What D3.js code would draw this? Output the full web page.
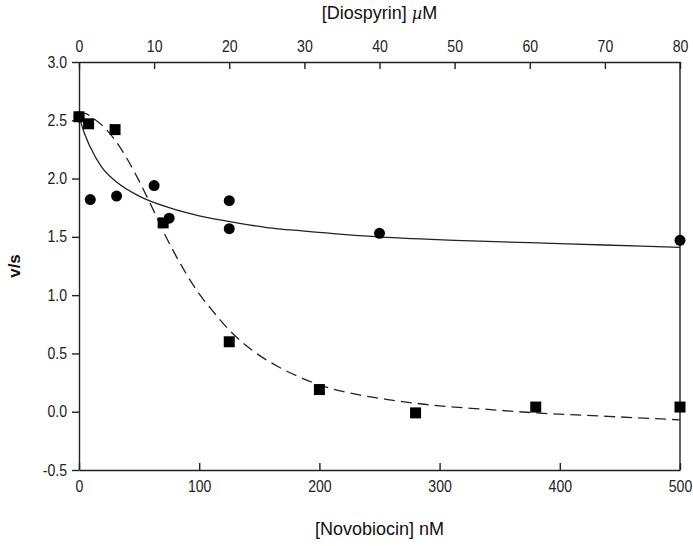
<!DOCTYPE html>
<html>
<head>
<meta charset="utf-8">
<script src="https://cdn.jsdelivr.net/npm/d3@7"></script>
<style>
  body { margin: 0; background: #fff; }
  svg { display: block; }
  .axis text { font-family: "Liberation Sans", Arial, sans-serif; font-size: 16px; fill: #222; }
  .axis path, .axis line { stroke: #222; stroke-width: 1.4px; }
  .axis-title { font-family: "Liberation Sans", Arial, sans-serif; font-size: 18px; fill: #111; }
</style>
</head>
<body>
<div id="chart"></div>
<script>
// Novobiocin (bottom axis, nM) – squares, dashed fit
const novoConc = [0, 8, 30, 70, 125, 200, 280, 380, 500];
const novoRate = [2.53, 2.47, 2.42, 1.62, 0.60, 0.19, -0.01, 0.04, 0.04];

// Diospyrin (top axis, µM) – circles, solid fit
const diosConc = [0, 1.5, 5, 10, 12, 20, 20, 40, 80];
const diosRate = [2.53, 1.82, 1.85, 1.94, 1.66, 1.81, 1.57, 1.53, 1.47];

// fitted curves
const novoFitX = [0, 5, 10, 20, 30, 40, 50, 60, 70, 80, 90, 100, 110, 125, 145, 165, 185, 200, 230, 260, 300, 340, 380, 440, 500];
const novoFitY = [2.55, 2.56, 2.53, 2.45, 2.33, 2.17, 1.98, 1.77, 1.55, 1.35, 1.17, 1.01, 0.88, 0.70, 0.52, 0.39, 0.29, 0.23, 0.15, 0.10, 0.05, 0.02, -0.01, -0.04, -0.07];
const diosFitX = [0, 0.5, 1.5, 3, 5, 8, 12, 16, 21, 25, 30, 40, 50, 60, 70, 80];
const diosFitY = [2.54, 2.43, 2.27, 2.10, 1.97, 1.85, 1.75, 1.68, 1.62, 1.58, 1.55, 1.50, 1.47, 1.45, 1.43, 1.41];

const xTicksBottom = [0, 100, 200, 300, 400, 500];
const xTicksTop = [0, 10, 20, 30, 40, 50, 60, 70, 80];
const yTicks = [-0.5, 0, 0.5, 1, 1.5, 2, 2.5, 3];

const width = 693, height = 546;
const margin = {top: 62, right: 13, bottom: 76, left: 79};
const innerW = width - margin.left - margin.right;
const innerH = height - margin.top - margin.bottom;

const svg = d3.select('#chart').append('svg')
    .attr('width', width)
    .attr('height', height);

const g = svg.append('g')
    .attr('transform', `translate(${margin.left},${margin.top})`);

const x = d3.scaleLinear().domain([0, 500]).range([0, innerW]);
const xTop = d3.scaleLinear().domain([0, 80]).range([0, innerW]);
const y = d3.scaleLinear().domain([-0.5, 3]).range([innerH, 0]);

// axes
const yAxisG = g.append('g')
    .attr('class', 'axis')
    .call(d3.axisLeft(y).tickValues(yTicks).tickFormat(d => d.toFixed(1))
      .tickSizeInner(7).tickSizeOuter(0).tickPadding(5));

const xAxisG = g.append('g')
    .attr('class', 'axis')
    .attr('transform', `translate(0,${innerH})`)
    .call(d3.axisBottom(x).tickValues(xTicksBottom)
      .tickSizeInner(-7).tickSizeOuter(0).tickPadding(11));

const xTopAxisG = g.append('g')
    .attr('class', 'axis')
    .call(d3.axisTop(xTop).tickValues(xTicksTop)
      .tickSizeInner(-7).tickSizeOuter(0).tickPadding(10));

// squeeze the tick labels a little, the original font is condensed
xAxisG.selectAll('.tick text').attr('transform', 'scale(0.88,1)');
xTopAxisG.selectAll('.tick text').attr('transform', 'scale(0.88,1)');
yAxisG.selectAll('.tick text').attr('x', -13.6).attr('transform', 'scale(0.88,1)');

// right frame line
g.append('line')
    .attr('x1', innerW).attr('x2', innerW)
    .attr('y1', 0).attr('y2', innerH)
    .attr('stroke', '#222')
    .attr('stroke-width', 1.4);

// axis titles
svg.append('text')
    .attr('class', 'axis-title')
    .attr('x', margin.left + innerW / 2)
    .attr('y', 535)
    .attr('text-anchor', 'middle')
    .text('[Novobiocin] nM');

const topTitle = svg.append('text')
    .attr('class', 'axis-title')
    .attr('x', margin.left + innerW / 2)
    .attr('y', 19)
    .attr('text-anchor', 'middle');
topTitle.append('tspan').text('[Diospyrin] ');
topTitle.append('tspan').style('font-family', '"DejaVu Serif", serif').style('font-style', 'italic').style('font-size', '16px').text('µ');
topTitle.append('tspan').text('M');

svg.append('text')
    .attr('class', 'axis-title')
    .attr('transform', `translate(20,${margin.top + innerH / 2}) rotate(-90)`)
    .attr('text-anchor', 'middle')
    .style('font-weight', 'bold')
    .style('font-size', '17px')
    .text('v/s');

// fitted curves
const novoLine = d3.line()
    .x((d, i) => x(novoFitX[i]))
    .y(d => y(d))
    .curve(d3.curveMonotoneX);

const diosLine = d3.line()
    .x((d, i) => xTop(diosFitX[i]))
    .y(d => y(d))
    .curve(d3.curveMonotoneX);

g.append('path')
    .attr('d', novoLine(novoFitY))
    .attr('fill', 'none')
    .attr('stroke', '#222')
    .attr('stroke-width', 1.3)
    .attr('stroke-dasharray', '11,6');

g.append('path')
    .attr('d', diosLine(diosFitY))
    .attr('fill', 'none')
    .attr('stroke', '#222')
    .attr('stroke-width', 1.3);

// markers
const square = d3.symbol().type(d3.symbolSquare).size(121);
const circle = d3.symbol().type(d3.symbolCircle).size(95);

g.selectAll('.novo-pt')
    .data(novoConc)
  .join('path')
    .attr('class', 'novo-pt')
    .attr('d', square)
    .attr('transform', (d, i) => `translate(${x(d)},${y(novoRate[i])})`)
    .attr('fill', '#000');

g.selectAll('.dios-pt')
    .data(diosConc)
  .join('path')
    .attr('class', 'dios-pt')
    .attr('d', circle)
    .attr('transform', (d, i) => `translate(${xTop(d)},${y(diosRate[i])})`)
    .attr('fill', '#000');
</script>
</body>
</html>
